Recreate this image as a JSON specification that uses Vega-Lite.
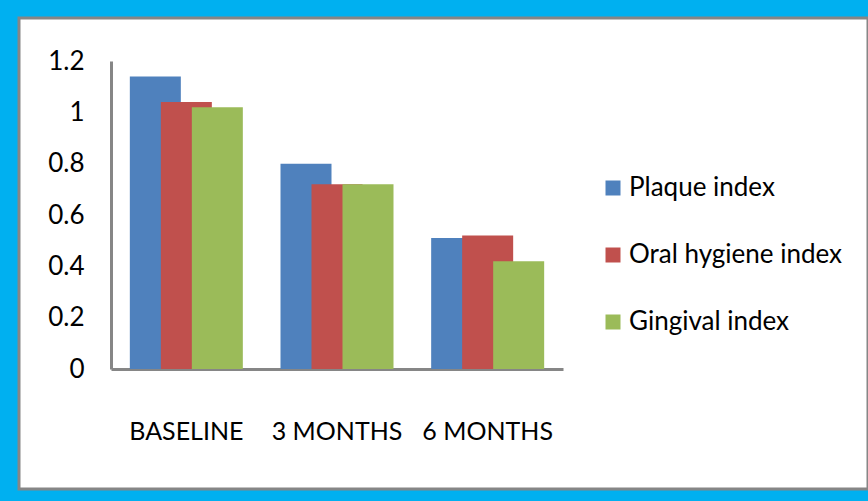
{
  "$schema": "https://vega.github.io/schema/vega-lite/v6.json",
  "autosize": "none",
  "padding": {"left": 19, "top": 18, "right": 0, "bottom": 12},
  "width": 849,
  "height": 471,
  "background": "#00B0F0",
  "config": {
    "view": {"fill": "#ffffff", "stroke": "#868686", "strokeWidth": 3},
    "font": "Lato, sans-serif"
  },
  "data": {
    "values": [
      {"period": "BASELINE", "index": "Plaque index", "value": 1.14},
      {"period": "BASELINE", "index": "Oral hygiene index", "value": 1.04},
      {"period": "BASELINE", "index": "Gingival index", "value": 1.02},
      {"period": "3 MONTHS", "index": "Plaque index", "value": 0.80},
      {"period": "3 MONTHS", "index": "Oral hygiene index", "value": 0.72},
      {"period": "3 MONTHS", "index": "Gingival index", "value": 0.72},
      {"period": "6 MONTHS", "index": "Plaque index", "value": 0.51},
      {"period": "6 MONTHS", "index": "Oral hygiene index", "value": 0.52},
      {"period": "6 MONTHS", "index": "Gingival index", "value": 0.42}
    ]
  },
  "mark": {"type": "bar", "width": 51},
  "encoding": {
    "x": {
      "field": "period",
      "type": "nominal",
      "sort": ["BASELINE", "3 MONTHS", "6 MONTHS"],
      "scale": {"range": [92, 544], "paddingInner": 0, "paddingOuter": 0},
      "axis": {
        "title": null,
        "offset": -120,
        "domainColor": "#868686",
        "domainWidth": 3,
        "ticks": false,
        "labelAngle": 0,
        "labelFontSize": 25,
        "labelColor": "#000000",
        "labelPadding": 70,
        "labelBaseline": "alphabetic"
      }
    },
    "xOffset": {
      "field": "index",
      "type": "nominal",
      "sort": ["Plaque index", "Oral hygiene index", "Gingival index"],
      "scale": {"paddingInner": 0, "paddingOuter": 0.93}
    },
    "y": {
      "field": "value",
      "type": "quantitative",
      "scale": {"domain": [0, 1.2], "range": [351, 43], "nice": false},
      "axis": {
        "title": null,
        "offset": -92,
        "values": [0, 0.2, 0.4, 0.6, 0.8, 1, 1.2],
        "labelExpr": "'' + datum.value",
        "domainColor": "#868686",
        "domainWidth": 3,
        "ticks": false,
        "grid": false,
        "labelFontSize": 26,
        "labelColor": "#000000",
        "labelPadding": 27
      }
    },
    "color": {
      "field": "index",
      "type": "nominal",
      "sort": ["Plaque index", "Oral hygiene index", "Gingival index"],
      "scale": {"range": ["#4F81BD", "#C0504D", "#9BBB59"]},
      "legend": {
        "title": null,
        "orient": "none",
        "legendX": 581,
        "legendY": 157,
        "padding": 0,
        "symbolType": "square",
        "symbolSize": 225,
        "symbolStrokeWidth": 0,
        "symbolOpacity": 1,
        "labelFontSize": 26,
        "labelColor": "#000000",
        "labelOffset": 3,
        "rowPadding": 41,
        "labelLimit": 300,
        "labelExpr": "datum.value == 'Plaque index' ? '\u2002' + datum.label : datum.label"
      }
    }
  }
}
